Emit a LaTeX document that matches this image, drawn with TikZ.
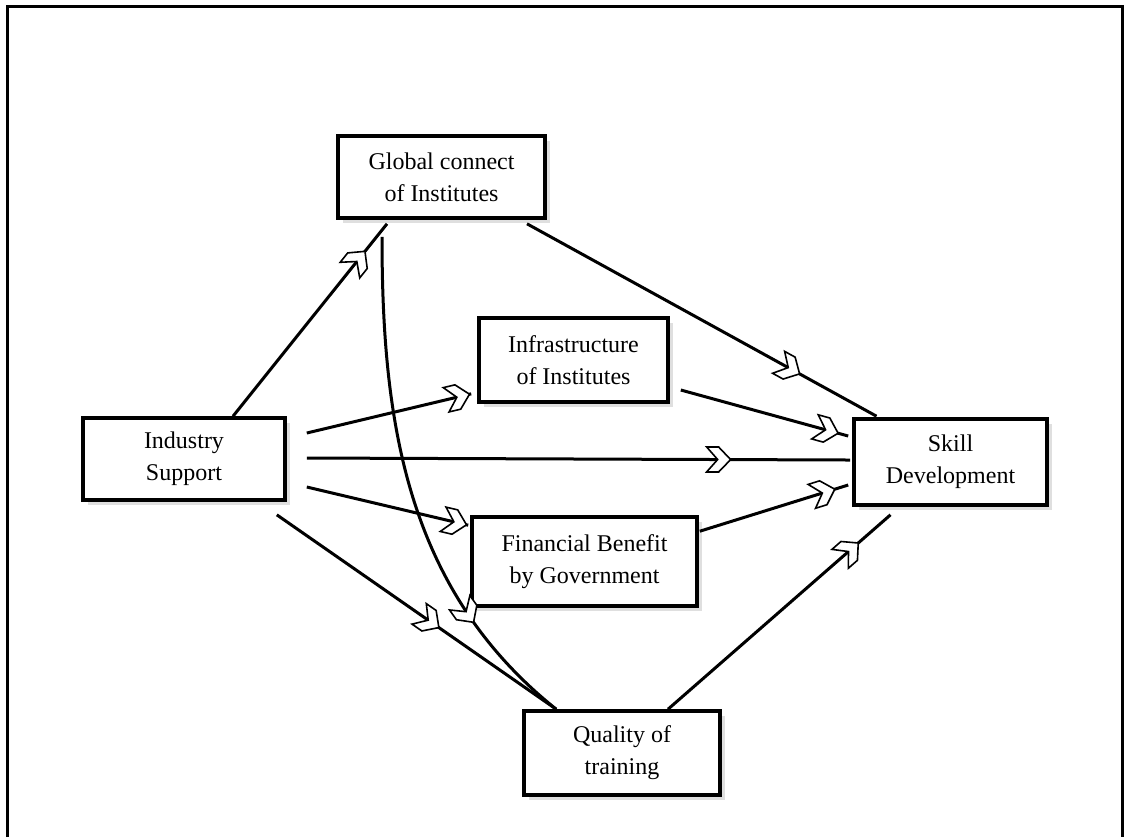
\documentclass[tikz,border=0pt]{standalone}
\usepackage{fontspec}
\setmainfont{Liberation Serif}
\usetikzlibrary{calc, shadows, decorations.markings}

\begin{document}
\begin{tikzpicture}[x=0.5pt, y=-0.5pt]
  % Page size of the figure (pixel-like units, y pointing down)
  \useasboundingbox (0,0) rectangle (1127,837);

  % ==========================================
  % 1. STYLES
  % ==========================================
  \tikzset{
    factor/.style={
      draw, line width=1.8pt, fill=white, align=center, inner sep=0pt,
      font=\fontsize{12}{16}\selectfont,
      drop shadow={shadow xshift=2.5pt, shadow yshift=-2.5pt, fill=black!25}
    },
    link/.style={line width=1.5pt},
    % hollow chevron sitting on the connector
    chev/.style={postaction={decorate, decoration={markings,
      mark=at position #1 with {
        \filldraw[fill=white, line width=0.8pt, line join=miter]
          (0,0) -- (-12,12.5) -- (-24,12.5) -- (-13,0) -- (-24,-12.5) -- (-12,-12.5) -- cycle;
      }}}}
  }

  % outer frame (open at the bottom)
  \draw[line width=1.5pt] (7,837) -- (7,6) -- (1122,6) -- (1122,837);

  % ==========================================
  % 2. FACTORS
  % ==========================================
  \node[factor, minimum width=103.5pt, minimum height=41pt] (glob) at (441.5,177) {Global connect\\of Institutes};
  \node[factor, minimum width=94.5pt, minimum height=42pt] (infra) at (573.5,360) {Infrastructure\\of Institutes};
  \node[factor, minimum width=101pt, minimum height=41pt] (ind) at (184,459) {Industry\\Support};
  \node[factor, minimum width=112.5pt, minimum height=44.5pt] (fin) at (584.5,561.5) {Financial Benefit\\by Government};
  \node[factor, minimum width=96.5pt, minimum height=43pt] (skill) at (950.5,462) {Skill\\Development};
  \node[factor, minimum width=98pt, minimum height=42pt] (qual) at (622,753) {Quality of\\training};

  % ==========================================
  % 3. CONNECTORS
  % ==========================================
  \draw[link, chev=0.86] ($(ind.north)+(49,0)$) -- ($(glob.south)+(-54.5,4)$);
  \draw[link, chev=0.78] ($(glob.south)+(85.5,4)$) -- ($(skill.north)+(-74,-1)$);
  \draw[link, chev=0.99] ($(ind.east)+(20,-26)$) -- ($(infra.south west)+(-6,-10)$);
  \draw[link, chev=0.94] ($(infra.east)+(11,30)$) -- ($(skill.west)+(-4,-26)$);
  \draw[link, chev=0.78] ($(ind.east)+(20,-1)$) -- ($(skill.west)+(-2,-2)$);
  \draw[link, chev=0.99] ($(ind.east)+(20,28)$) -- ($(fin.north west)+(-2,10)$);
  \draw[link, chev=0.91] ($(fin.north east)+(1,16)$) -- ($(skill.west)+(-4,23)$);
  \draw[link, chev=0.58] ($(ind.south east)+(-10,13)$) -- ($(qual.north west)+(34,0)$);
  \draw[link, chev=0.77] ($(glob.south)+(-59.5,17)$) .. controls +(0,185) and +(-150,-120) .. ($(qual.north west)+(34,0)$);
  \draw[link, chev=0.855] ($(qual.north)+(46,0)$) -- ($(skill.south)+(-60,8)$);

\end{tikzpicture}
\end{document}
